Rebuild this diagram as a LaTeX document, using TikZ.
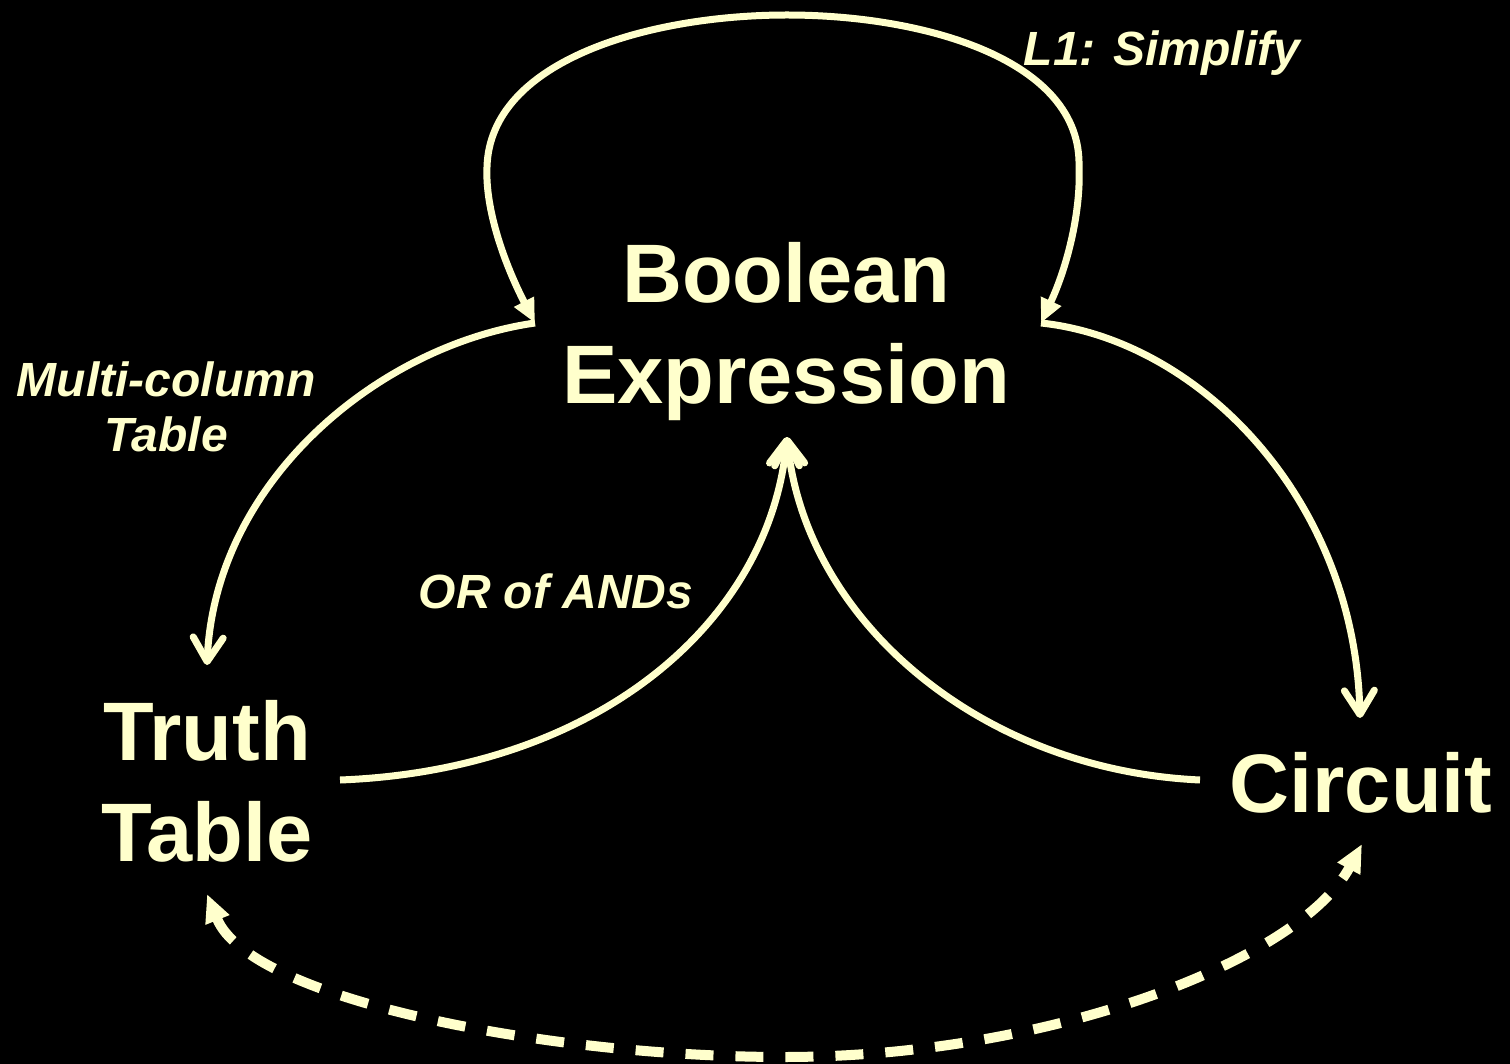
\documentclass[tikz,border=0pt]{standalone}
\usepackage{fontspec}
\setmainfont{Liberation Sans}
\usetikzlibrary{arrows.meta}
\definecolor{cream}{RGB}{255,255,204}
\begin{document}
\begin{tikzpicture}[x=1pt,y=-1pt,
  big/.style={text=cream,font=\bfseries\fontsize{83}{101}\selectfont,inner sep=0pt,align=center},
  lbl/.style={text=cream,font=\bfseries\itshape\fontsize{48}{55}\selectfont,inner sep=0pt,align=center},
  conn/.style={draw=cream,line width=7pt},
  chev/.style={-{Straight Barb[length=24pt,width=30pt,round]}},
  tri/.style={{Triangle[length=24pt,width=21pt]}-{Triangle[length=24pt,width=21pt]}},
  dashconn/.style={draw=cream,line width=10pt,dash pattern=on 28pt off 22pt,
    {Triangle[length=28pt,width=24pt]}-{Triangle[length=28pt,width=24pt]}}
]
\fill[black] (0,0) rectangle (1510,1064);
\useasboundingbox (0,0) rectangle (1510,1064);

% texts
\node[big,anchor=north] (bool) at (786,242) {Boolean\\Expression};
\node[big,anchor=north] (truth) at (207,700) {Truth\\Table};
\node[big,anchor=base] (circ) at (1361,812) {Circuit};
\node[lbl,anchor=base] (l1) at (1162,66) {L1: Simplify};
\node[lbl,anchor=north] (mc) at (166,362) {Multi-column\\Table};
\node[lbl,anchor=base] (or) at (556,608) {OR of ANDs};

% connector ends
\coordinate (bW) at (535,323);
\coordinate (bE) at (1041,323);
\coordinate (bS) at (787,437);
\coordinate (tN) at (207,665);
\coordinate (tE) at (340,780);
\coordinate (tS) at (207,894);
\coordinate (cN) at (1360,718);
\coordinate (cW) at (1200,780);
\coordinate (cS) at (1362,844);

% self loop (L1: Simplify)
\draw[conn,tri] (bW) .. controls (505,265) and (485,210) .. (487,167)
  .. controls (490,60) and (650,15) .. (787,15)
  .. controls (925,15) and (1082,60) .. (1079,167)
  .. controls (1081,210) and (1068,265) .. (bE);

% Boolean -> Truth table (multi-column table)
\draw[conn,chev] (bW) .. controls (380,345) and (215,480) .. (tN);
% Boolean -> Circuit
\draw[conn,chev] (bE) .. controls (1200,340) and (1355,500) .. (cN);
% Truth table -> Boolean (OR of ANDs)
\draw[conn,chev] (tE) .. controls (600,770) and (770,620) .. (bS);
% Circuit -> Boolean
\draw[conn,chev] (cW) .. controls (980,770) and (805,620) .. (bS);
% dashed Truth table <-> Circuit
\draw[dashconn] (tS) .. controls (250,1000) and (550,1057) .. (784,1057)
  .. controls (1050,1057) and (1300,960) .. (cS);
\end{tikzpicture}
\end{document}
